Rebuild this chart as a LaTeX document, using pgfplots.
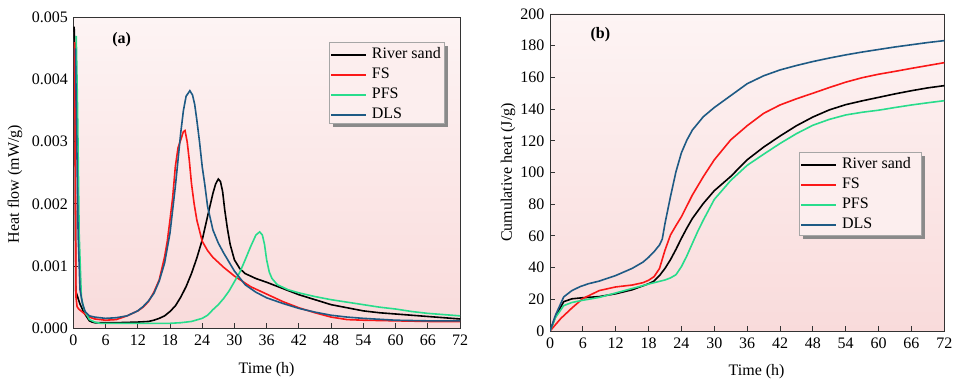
\documentclass[border=0pt]{standalone}
\usepackage{fontspec}
\setmainfont{Liberation Serif}
\usepackage{pgfplots}
\pgfplotsset{compat=1.18}
\definecolor{cRed}{RGB}{250,24,24}
\definecolor{cGreen}{RGB}{40,220,140}
\definecolor{cBlue}{RGB}{30,90,132}
\definecolor{bgTop}{RGB}{253,244,244}
\definecolor{bgBot}{RGB}{249,219,219}
\definecolor{legFill}{RGB}{252,238,238}
\definecolor{shadowGray}{RGB}{138,138,138}
\newcommand\ff{\fontsize{16bp}{19.2bp}\selectfont}
\pgfplotsset{
  mystyle/.style={
    scale only axis,
    anchor=south west,
    axis background/.style={shade, top color=bgTop, bottom color=bgBot},
    axis line style={black!80, line width=0.9bp},
    tick align=inside,
    tick pos=left,
    major tick length=5bp,
    tick style={black!80, line width=0.8bp},
    ticklabel style={font=\ff},
    /pgf/number format/assume math mode=true,
    label style={font=\ff},
    xmin=0, xmax=72,
    xtick={0,6,...,72},
    xticklabel style={yshift=-3bp},
    yticklabel style={xshift=-2bp},
    every axis plot/.append style={line width=1.6bp},
    legend cell align=left,
    legend image code/.code={\draw[##1, line width=1.8bp] (0bp,0bp) -- (35bp,0bp);},
    legend style={font=\ff, draw=none, fill=none,
      anchor=north west, inner xsep=1bp, inner ysep=3bp, row sep=0pt, column sep=3bp,
      nodes={text height=11.5bp, text depth=4.5bp, inner sep=2bp}},
  }
}
\begin{document}
\begin{tikzpicture}
\path[use as bounding box] (0,0) rectangle (960bp,385bp);
% Panel (a)
\begin{axis}[mystyle,
  at={(73.3bp,56.7bp)}, width=386.7bp, height=311bp,
  ymin=0, ymax=0.005,
  ytick={0,0.001,0.002,0.003,0.004,0.005},
  scaled y ticks=false,
  yticklabel style={/pgf/number format/fixed, /pgf/number format/fixed zerofill, /pgf/number format/precision=3},
  xlabel={Time (h)}, ylabel={Heat flow (mW/g)},
  xlabel style={at={(axis description cs:0.5,-0.134)}, anchor=center},
  ylabel style={at={(axis description cs:-0.151,0.464)}, anchor=center, rotate=0},
  legend style={at={(axis description cs:0.661,0.9206)}},
]
\addplot[black] coordinates {
(0.15,0.00485)(0.3,0.0045)(0.45,0.0006)(1.2,0.0004)(2,0.00025)(3,0.00012)(3.5,0.0001)(4,0.00009)(8,0.00009)(12,0.0001)(14,0.00011)(15,0.00013)(16,0.00016)(17,0.0002)(18,0.00027)(19,0.00036)(20,0.0005)(21,0.00067)(22,0.00088)(23,0.00113)(24,0.00142)(25,0.0018)(26,0.00217)(26.5,0.00232)(27,0.0024)(27.4,0.00236)(27.8,0.0022)(28.2,0.0019)(28.7,0.0016)(29.2,0.00135)(30,0.0011)(31,0.00096)(32,0.00088)(34,0.0008)(36,0.00074)(39,0.00064)(42,0.00054)(45,0.00046)(48,0.00038)(51,0.00033)(54,0.00028)(57,0.00025)(60,0.00023)(63,0.00021)(66,0.00019)(69,0.00017)(72,0.00015)
};
\addlegendentry{River sand}
\addplot[cRed] coordinates {
(0.25,0.0046)(0.5,0.0005)(0.7,0.00035)(1,0.00031)(2,0.00024)(3,0.00018)(4,0.00015)(6,0.00013)(8,0.00014)(10,0.0002)(12,0.00028)(13,0.00034)(14,0.00043)(15,0.00058)(16,0.00078)(17,0.00115)(17.5,0.0014)(18,0.00174)(18.5,0.0021)(19,0.0026)(19.5,0.0029)(20,0.00303)(20.5,0.00316)(20.8,0.00318)(21.2,0.003)(21.6,0.0027)(22,0.00233)(22.5,0.002)(23,0.00174)(24,0.0014)(25,0.00125)(26,0.00114)(28,0.00098)(30,0.00084)(33,0.00067)(36,0.00055)(39,0.00043)(42,0.00033)(45,0.00025)(48,0.00018)(51,0.00014)(54,0.00013)(60,0.00012)(66,0.00011)(72,0.00011)
};
\addlegendentry{FS}
\addplot[cGreen] coordinates {
(0.55,0.0047)(0.8,0.0035)(1.1,0.0015)(1.5,0.0005)(2,0.0003)(3,0.00014)(4,0.0001)(5,0.00008)(10,0.00008)(18,0.00008)(20,0.00009)(22,0.00011)(24,0.00016)(25,0.00021)(26,0.0003)(27,0.00038)(28,0.00048)(29,0.0006)(30,0.00075)(31,0.0009)(32,0.0011)(33,0.00131)(34,0.0015)(34.7,0.00155)(35.2,0.0015)(35.6,0.00135)(36,0.0011)(36.5,0.0009)(37,0.0008)(38,0.0007)(40,0.00062)(42,0.00057)(45,0.00051)(48,0.00046)(51,0.00042)(54,0.00038)(57,0.00034)(60,0.00031)(63,0.00027)(66,0.00024)(69,0.00022)(72,0.0002)
};
\addlegendentry{PFS}
\addplot[cBlue] coordinates {
(0.4,0.0045)(0.9,0.0015)(1.25,0.00062)(1.7,0.0004)(2.2,0.00027)(3,0.0002)(4,0.00018)(6,0.00016)(8,0.00017)(10,0.0002)(12,0.00028)(13,0.00035)(14,0.00044)(15,0.00056)(16,0.00076)(17,0.00105)(18,0.00153)(19,0.00228)(20,0.00314)(20.5,0.0035)(21,0.00373)(21.7,0.00382)(22.2,0.00375)(22.6,0.0036)(23,0.00335)(23.5,0.003)(24,0.0026)(24.5,0.0023)(25,0.00196)(26,0.00158)(27,0.00137)(28,0.00121)(30,0.00092)(32,0.0007)(34,0.00058)(36,0.00049)(39,0.0004)(42,0.00032)(45,0.00026)(48,0.00021)(51,0.00018)(54,0.00016)(60,0.00013)(66,0.00012)(72,0.00012)
};
\addlegendentry{DLS}
\fill[shadowGray, xshift=4bp, yshift=-4bp] (axis description cs:0.661,0.9206) rectangle (axis description cs:0.9587,0.6601);
\draw[gray!70, line width=0.6bp, fill=legFill] (axis description cs:0.661,0.9206) rectangle (axis description cs:0.9587,0.6601);
\node[font=\ff\bfseries] at (axis description cs:0.125,0.927) {(a)};
\end{axis}
% Panel (b)
\begin{axis}[mystyle,
  at={(550bp,54bp)}, width=394.3bp, height=317bp,
  ymin=0, ymax=200,
  ytick={0,20,...,200},
  xlabel={Time (h)}, ylabel={Cumulative heat (J/g)},
  xlabel style={at={(axis description cs:0.524,-0.128)}, anchor=center},
  ylabel style={at={(axis description cs:-0.1065,0.5)}, anchor=center, rotate=0},
  legend style={at={(axis description cs:0.6315,0.5647)}},
]
\addplot[black] coordinates {
(0,0)(1,9)(2.5,18.5)(4,20.3)(6,21)(9,21.7)(12,23.5)(15,26)(18,29.8)(19,31.5)(20,35)(21,39.5)(22,45)(23,51.5)(24,58.5)(25,65)(26,71)(28,80.5)(30,88.5)(33,97.5)(36,108)(39,116)(42,123)(45,129.5)(48,135)(51,139.5)(54,142.8)(57,145.2)(60,147.4)(63,149.6)(66,151.6)(69,153.4)(72,154.8)
};
\addlegendentry{River sand}
\addplot[cRed] coordinates {
(0,0)(2,8)(4,14.5)(6,20.5)(9,25.5)(12,27.8)(15,29)(17,30.5)(18,32)(19,34.3)(20,39.5)(21,51)(22,60.6)(23,66.5)(24,72.1)(26,85.8)(28,97.4)(30,108)(33,120.6)(36,129.5)(39,137.3)(42,142.6)(45,146.5)(48,150)(51,153.6)(54,157)(57,159.8)(60,162)(63,163.8)(66,165.7)(69,167.5)(72,169.3)
};
\addlegendentry{FS}
\addplot[cGreen] coordinates {
(0,0)(1,8.5)(2.5,16)(4,18)(6,19.4)(9,21.2)(12,24)(15,26.8)(18,29.6)(21,32.2)(22,33.5)(23,35.5)(24,40.6)(25,47.5)(26,55.3)(27,63)(28,70)(30,83)(33,95)(36,104.5)(39,111.5)(42,118.3)(45,124.5)(48,129.8)(51,133.5)(54,136.3)(57,138)(60,139.3)(63,141)(66,142.6)(69,144)(72,145.3)
};
\addlegendentry{PFS}
\addplot[cBlue] coordinates {
(0,0)(1,10)(2.5,21.5)(4,25.5)(5.5,28)(7,29.8)(9,31.5)(12,35)(15,39.5)(17,43.5)(18,46.5)(19,50)(20,54.3)(20.5,58)(21,67.9)(22,84.8)(23,100.5)(24,112.5)(25,120.5)(26,126.8)(28,135.2)(30,141)(33,148.5)(36,156)(39,161)(42,164.7)(45,167.5)(48,170)(51,172.2)(54,174.2)(57,176)(60,177.6)(63,179.2)(66,180.6)(69,182)(72,183.2)
};
\addlegendentry{DLS}
\fill[shadowGray, xshift=4bp, yshift=-4bp] (axis description cs:0.6315,0.5647) rectangle (axis description cs:0.9409,0.3028);
\draw[gray!70, line width=0.6bp, fill=legFill] (axis description cs:0.6315,0.5647) rectangle (axis description cs:0.9409,0.3028);
\node[font=\ff\bfseries] at (axis description cs:0.1276,0.934) {(b)};
\end{axis}
\end{tikzpicture}
\end{document}
